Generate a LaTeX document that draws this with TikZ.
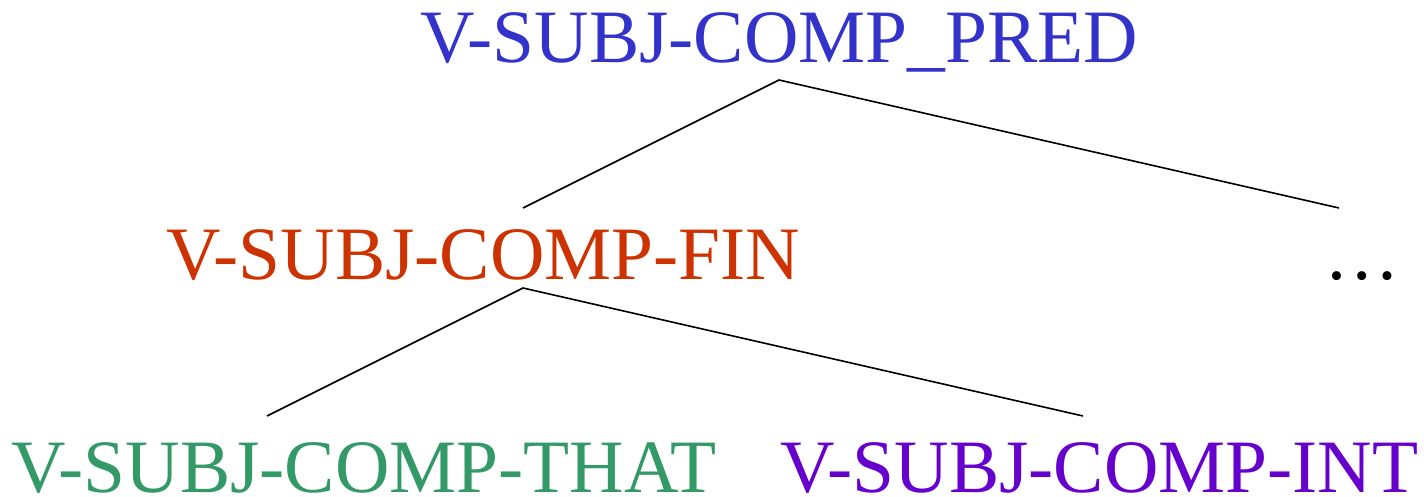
\documentclass[tikz,border=0pt]{standalone}
\usepackage{fontspec}
\setmainfont{Liberation Serif}
\definecolor{cblue}{RGB}{51,51,204}
\definecolor{corange}{RGB}{204,51,0}
\definecolor{cgreen}{RGB}{51,153,102}
\definecolor{cpurple}{RGB}{102,0,204}
\begin{document}
\begin{tikzpicture}[x=1pt,y=-1pt,
  lbl/.style={anchor=base west,inner sep=0pt,font=\fontsize{75.4}{90}\selectfont},
  edge/.style={draw=black,line width=1.6pt}]
\useasboundingbox (0,0) rectangle (1424,497);
\node[lbl,text=cblue] (pred) at (420,63) {V-SUBJ-COMP\_PRED};
\node[lbl,text=corange] (fin) at (166,279) {V-SUBJ-COMP-FIN};
\node[lbl,text=black] (dots) at (1324,279) {…};
\node[lbl,text=cgreen] (that) at (11,492) {V-SUBJ-COMP-THAT};
\node[lbl,text=cpurple] (int) at (780,492) {V-SUBJ-COMP-INT};
\coordinate (p) at (779,80);
\coordinate (pl) at (523,208);
\coordinate (pr) at (1339,208);
\coordinate (f) at (523,288);
\coordinate (fl) at (267,416);
\coordinate (fr) at (1083,416);
\draw[edge] (pl) -- (p) -- (pr);
\draw[edge] (fl) -- (f) -- (fr);
\end{tikzpicture}
\end{document}
